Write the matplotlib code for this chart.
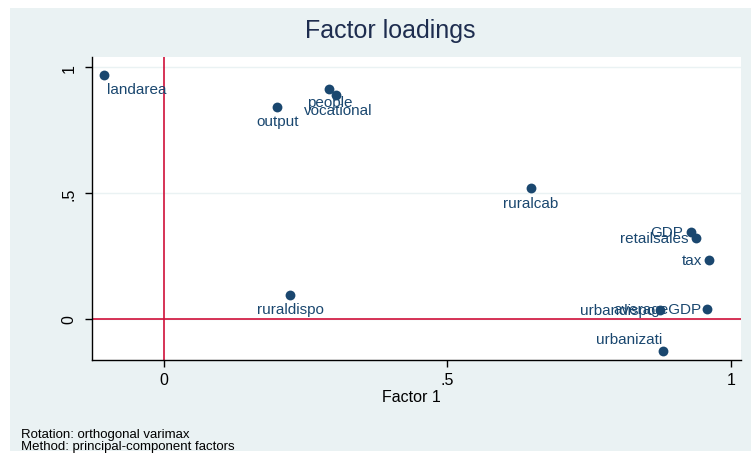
import matplotlib
matplotlib.use("Agg")
import matplotlib.pyplot as plt
from matplotlib.patches import Rectangle

plt.rcParams['font.family'] = ['Liberation Sans', 'DejaVu Sans']

names = ["landarea", "people", "vocational", "output", "ruralcab", "GDP",
         "retailsales", "tax", "ruraldispo", "averageGDP", "urbandispo", "urbanizati"]
factor1 = [-0.106, 0.291, 0.303, 0.199, 0.647, 0.929, 0.938, 0.961, 0.222, 0.958, 0.875, 0.880]
factor2 = [0.968, 0.913, 0.889, 0.841, 0.520, 0.345, 0.321, 0.234, 0.095, 0.040, 0.036, -0.127]

xticks = [0, 0.5, 1]
xticklabels = ["0", ".5", "1"]
yticks = [0, 0.5, 1]
yticklabels = ["0", ".5", "1"]

# label placement (offset in pixels, alignment)
label_pos = {
    "landarea": (3, -14, "left"),
    "people": (1, -13, "center"),
    "vocational": (2, -15, "center"),
    "output": (1, -14, "center"),
    "ruralcab": (0, -15, "center"),
    "GDP": (-7, 0, "right"),
    "retailsales": (-7, 0, "right"),
    "tax": (-7, 0, "right"),
    "ruraldispo": (1, -14, "center"),
    "averageGDP": (-5, 0, "right"),
    "urbandispo": (-5, 0, "right"),
    "urbanizati": (-1, 12, "right"),
}

navy = "#1a476f"
bg = "#eaf2f3"
red = "#d0103a"

fig = plt.figure(figsize=(7.51, 4.56), dpi=100, facecolor="white")
bgrect = Rectangle((10/751, 1 - 452/456), (751-10)/751, (452-9)/456,
                   transform=fig.transFigure, facecolor=bg, edgecolor="none", zorder=-5)
fig.add_artist(bgrect)

ax = fig.add_axes([92/751, 1 - 361/456, (741-92)/751, (361-58)/456])
ax.set_facecolor("white")
ax.set_xlim(-0.127, 1.018)
ax.set_ylim(-0.163, 1.04)

for yv in yticks:
    ax.axhline(yv, color=bg, lw=1.0, zorder=1)
ax.axvline(0, color=red, lw=1.2, zorder=2)
ax.axhline(0, color=red, lw=1.2, zorder=2)

ax.scatter(factor1, factor2, s=50, color=navy, zorder=3, linewidths=0)
for n, x, y in zip(names, factor1, factor2):
    dx, dy, ha = label_pos[n]
    ax.annotate(n, (x, y), xytext=(dx * 0.72, dy * 0.72), textcoords="offset points",
                ha=ha, va="center", color=navy, fontsize=11, zorder=4)

for s in ["top", "right"]:
    ax.spines[s].set_visible(False)
for s in ["left", "bottom"]:
    ax.spines[s].set_color("black")
    ax.spines[s].set_linewidth(1.0)

ax.set_xticks(xticks)
ax.set_xticklabels(xticklabels, fontsize=11.5)
ax.set_yticks(yticks)
ax.set_yticklabels(yticklabels, fontsize=11.5, rotation=90, va="center")
ax.tick_params(axis="x", direction="out", length=5, width=1, color="black", pad=4)
ax.tick_params(axis="y", direction="out", length=5, width=1, color="black", pad=6)

ax.set_xlabel("Factor 1", fontsize=11.5)
ax.xaxis.set_label_coords(0.4915, -0.095)

fig.text(390/751, 1 - 31/456, "Factor loadings", ha="center", va="center",
         fontsize=18, color="#1e2d4f")
fig.text(21/751, 1 - 435/456, "Rotation: orthogonal varimax", ha="left", va="center",
         fontsize=9.5, color="black")
fig.text(21/751, 1 - 447/456, "Method: principal-component factors", ha="left", va="center",
         fontsize=9.5, color="black")

fig.savefig("out.png", dpi=100, facecolor="white")
